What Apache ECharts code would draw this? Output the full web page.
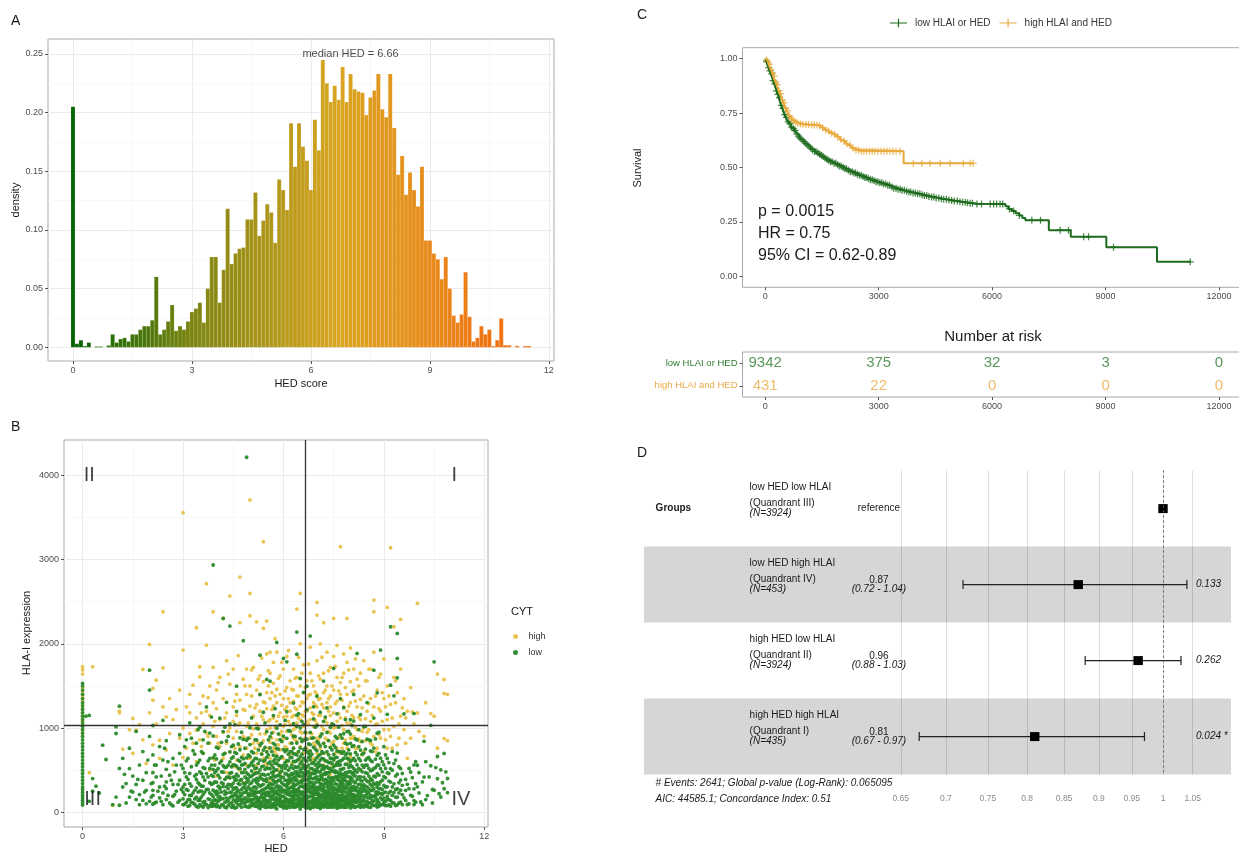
<!DOCTYPE html>
<html>
<head>
<meta charset="utf-8">
<script src="https://cdn.jsdelivr.net/npm/echarts@6/dist/echarts.min.js"></script>
<style>
html,body{margin:0;padding:0;background:#fff;}
#chart{width:1239px;height:856px;}
</style>
</head>
<body>
<div id="chart"></div>
<script>
const FONT = '"Liberation Sans", Arial, Helvetica, sans-serif';

// ---------- Panel A: HED score histogram (bins of 0.1, first bin centred on 0) ----------
const hedBinWidth = 0.1;
const hedDensity = [
  0.205,0.003,0.006,0.001,0.004,0,0.0006,0.0006,0,0.0015,
  0.011,0.004,0.007,0.008,0.005,0.011,0.011,0.015,0.018,0.018,
  0.023,0.060,0.011,0.015,0.022,0.036,0.014,0.018,0.015,0.022,
  0.030,0.033,0.038,0.021,0.050,0.077,0.077,0.038,0.066,0.118,
  0.071,0.080,0.084,0.085,0.109,0.109,0.132,0.095,0.108,0.122,
  0.115,0.089,0.143,0.134,0.117,0.191,0.154,0.191,0.171,0.159,
  0.134,0.194,0.168,0.245,0.225,0.209,0.223,0.211,0.239,0.209,
  0.233,0.220,0.218,0.217,0.198,0.213,0.219,0.233,0.203,0.196,
  0.233,0.187,0.147,0.163,0.130,0.149,0.134,0.120,0.154,0.091,
  0.091,0.080,0.075,0.058,0.077,0.050,0.027,0.021,0.028,0.064,
  0.026,0.005,0.008,0.018,0.011,0.015,0.001,0.006,0.0245,0.0017,
  0.0017,0,0.0012,0,0.001,0.001
];
const medianHED = 6.66;
const hedXTicks = [0, 3, 6, 9, 12];
const hedXMinor = [1.5, 4.5, 7.5, 10.5];
const densityTicks = [0, 0.05, 0.1, 0.15, 0.2, 0.25];
const densityMinor = [0.025, 0.075, 0.125, 0.175, 0.225];

// ---------- Panel B: HED vs HLA-I expression, coloured by CYT ----------
// each entry: [HED, [HLA-I expression values ...]]
const highCols = [
  [0,[935,980,1030,1080,1130,1180,1230,1280,1330,1380,1430,1480,1640,1690,1727]],
  [0.2,[470]],[0.3,[1727]],[0.9,[83]],
  [1.1,[1180,1200]],[1.2,[750]],[1.4,[980]],[1.5,[1113,700]],[1.6,[974]],[1.7,[1040]],[1.8,[1695,860]],[1.9,[580]],
  [2.0,[1992,1180]],[2.1,[1331,1469,800]],[2.2,[1568,1050]],[2.3,[855,640]],[2.4,[1715,2380,1250]],[2.5,[1133,740]],
  [2.6,[935,1350]],[2.7,[560,1100]],[2.8,[1220]],[2.9,[1450,880]],
  [3.0,[1925,3556,1000,650]],[3.1,[1251,760]],[3.2,[935,1400,1180]],[3.3,[1509,820]],[3.4,[2190,974,1120,600]],
  [3.5,[1608,1727,1290,860]],[3.6,[1050,700,1380]],[3.7,[2713,940,1200,1984]],[3.8,[1500,820,1150,500]],[3.9,[2380,1720,1020,640,1300]],
  [4.0,[1230,900,1450,430]],[4.1,[780,1600,1100]],[4.2,[2301,1350,950,640]],[4.3,[1180,1800,820,470]],[4.4,[2566,1520,1000,720,420]],
  [4.5,[1250,880,1700,560,1080]],[4.6,[1400,960,620,1150]],[4.7,[2792,2250,1060,780,1330,500]],[4.8,[1580,900,1220,680,350]],[4.9,[1700,1020,760,1400,560]],
  [5.0,[3707,2598,2333,1260,880,1500,640]],[5.1,[1140,1720,820,990]],[5.2,[2261,1450,1050,700,1280,560]],[5.3,[1620,930,1200,780,1400,430]],
  [5.4,[2182,3212,1100,850,1550,640,1310]],[5.5,[2269,1880,980,1230,720,1420,560]],[5.6,[1650,1100,830,1350,640,1900,1000,380]],
  [5.7,[1260,950,1530,760,1120,470,1780]],[5.8,[1900,1080,860,1300,680,1460,1020]],[5.9,[1400,920,1180,740,1620,540,460]],
  [6.0,[1130,1350,870,1700,640,1020]],[6.1,[1250,960,1480,760,1140,1850,600]],[6.2,[1560,1040,820,1300,680,1200,350]],
  [6.3,[1320,980,1700,760,1150,1450,600,880]],[6.4,[2412,1600,1060,840,1380,700,1220]],[6.5,[2598,1260,960,1500,780,1100,2000,620,420]],
  [6.6,[1420,1020,860,1300,1750,700,1140]],[6.7,[1200,940,1560,760,1350,1080,540]],[6.8,[1650,1100,880,1400,720,1960,1240,470]],
  [6.9,[1300,1020,820,1500,1160,640]],[7.0,[2491,2341,1400,1050,1800,880,1250,700]],[7.1,[1580,1150,920,1350,760,2000,390]],
  [7.2,[2250,1240,980,1650,820,1420,560]],[7.3,[1300,1060,1900,860,1500,700]],[7.4,[1720,1150,940,1380,780,1250,450]],
  [7.5,[2301,1450,1000,1850,840,1180,620]],[7.6,[1320,1080,1600,760,1980]],[7.7,[3152,1540,1120,900,1400,700,330]],
  [7.8,[1880,1250,980,1650,820]],[7.9,[2301,1400,1060,1200,760,1780]],[8.0,[1300,1050,1550,880,1950,660,410]],
  [8.1,[1450,1120,900,1700]],[8.2,[1250,980,1580,760]],[8.3,[1650,1100,1340,840,500]],[8.4,[1380,1000,1800,720]],
  [8.5,[1200,950,1560]],[8.6,[1700,1080,820,1350,380]],[8.7,[2519,2380,1250,900,1900]],[8.8,[1450,1050,760]],[8.9,[1200,1640,880]],
  [9.0,[1350,980,1820]],[9.1,[2432,1100,1500,760]],[9.2,[3140,1280,900]],[9.3,[2202,1600,1020]],[9.4,[1420,800]],
  [9.5,[2289,1140,1700]],[9.6,[980,1350]],[9.7,[1200,640]],[9.8,[1480,880]],[9.9,[1050]],
  [10.0,[2479,1180]],[10.2,[900]],[10.4,[1172]],[10.5,[1141]],[10.6,[1640,760]],[10.8,[1576,875,1410]],[10.9,[1400,850]],
  [3.55,[1180,780]],[3.75,[1360,900]],[3.95,[1080,620]],[4.05,[1540,820]],[4.25,[1120,700]],[4.35,[1640,960]],
  [4.55,[1320,760,540]],[4.65,[1860,1040]],[4.85,[1210,880,1500]],[4.95,[1060,640]],[5.05,[1380,920,1690]],
  [5.15,[1240,760,480]],[5.25,[1580,1010,820]],[5.35,[1140,700,1830]],[5.45,[1300,930,590]],[5.55,[1500,1080,760,1680]],
  [5.65,[1220,880,1420,560]],[5.75,[1380,1010,720,2060]],[5.85,[1140,800,1590,500]],[5.95,[1270,960,1780,650]],
  [6.05,[1440,1040,780,1220]],[6.15,[1080,1350,690,1920]],[6.25,[1460,920,1130,580]],[6.35,[1240,860,1590,1000]],
  [6.45,[1120,1380,720,1840]],[6.55,[1310,940,1650,560,1160]],[6.65,[1200,880,1480,1040]],[6.75,[1390,1050,720,1760]],
  [6.85,[1180,930,1560,620]],[6.95,[1430,1090,790,1270]],[7.05,[1150,860,1620,1340]],[7.15,[1280,1020,700,1840]],
  [7.25,[1450,1110,880,610]],[7.35,[1200,960,1680,1350]],[7.45,[1050,820,1500,560]],[7.55,[1290,1010,1730,700]],
  [7.65,[1170,890,1440]],[7.75,[1330,1030,760,1600]],[7.85,[1120,860,1480]],[7.95,[1260,960,1690,600]],
  [8.05,[1150,880,1430]],[8.15,[1320,1010,760,1820]],[8.25,[1130,870,1500]],[8.35,[1240,960,680]],
  [8.45,[1560,1110,850]],[8.55,[1290,980,1700]],[8.65,[1150,800]],[8.75,[1380,1040,720]],[8.85,[1230,920,1600]],
  [8.95,[1080,1420]],[9.05,[1250,860]],[9.15,[1380,980]],[9.25,[1120,760]],[9.35,[1300,1560]],[9.45,[1050,880]],
  [9.55,[1240]],[9.65,[1120,820]],[9.85,[1190]],[10.05,[960]],[10.25,[1300]]
];
const lowCols = [
  [0,[85,110,140,170,200,235,270,300,340,380,420,460,500,540,580,620,660,700,740,780,820,860,900,940,980,1020,1060,1100,1140,1180,1220,1260,1300,1350,1400,1450,1500,1530]],
  [0.1,[1140]],[0.2,[130,1150]],[0.3,[400,250]],[0.4,[310]],[0.5,[230]],[0.6,[796]],[0.7,[626]],[0.9,[90]],
  [1.0,[1014,935,180]],[1.1,[520,83,1259]],[1.2,[300,640]],[1.3,[340,110]],[1.4,[519,180,760]],
  [1.5,[240,430]],[1.6,[150,960,330]],[1.7,[90,560,210]],[1.8,[720,140,380]],[1.9,[260,100,470]],
  [2.0,[1687,1450,130,900]],[2.1,[470,260,680,95,350,1030,200]],[2.2,[560,120,420]],[2.3,[780,170,300]],[2.4,[1090,620,230,90]],
  [2.5,[510,360,150,850,280]],[2.6,[110,440]],[2.7,[640,190,330,75]],[2.8,[560,250]],[2.9,[920,140,380,700]],
  [3.0,[240,90,520,300,160]],[3.1,[860,420,120,610,270]],[3.2,[200,80,460,340,1060,150]],[3.3,[730,230,110]],
  [3.4,[560,390,70,290,180,820,450]],[3.5,[140,620,330,90,250,1010,480,160]],[3.6,[60,700,210,530,120,310,860,420]],
  [3.7,[1250,90,460,270]],[3.8,[150,350,640,80,520,230,940]],[3.9,[2935,185,425,95,648,262,134,905,342,508,72]],
  [4.0,[96,633,251,139,357,66,494,214,772]],[4.1,[148,407,296,58,585,186,1117,276]],[4.2,[2301,687,338,958,163,476,84,305,552]],
  [4.3,[127,846,302,53,537,226,414,1305,168]],[4.4,[2210,236,1048,407,174,716,327,103,463,598]],
  [4.5,[82,562,344,147,796,418,273,61,657,193]],[4.6,[548,241,385,1497,156,698,288,112,452,197,57,1196]],
  [4.7,[603,143,377,883,228,86,517,329,183,742]],[4.8,[2036,566,295,636,231,118,864,347,473,154]],
  [4.9,[4214,68,403,645,236,126,855,357,468,149,264]],[5.0,[227,83,558,338,153,803,421,276,63,662,1003,144]],
  [5.1,[553,243,382,152,704,294,92,447,213,611]],[5.2,[182,524,287,73,402,637,236,117,858,353,468,996,154]],
  [5.3,[44,416,1398,172,618,131,309,797,241,503,94,1865]],[5.4,[162,607,331,78,449,1187,224,738,128,384,548,268]],
  [5.5,[236,652,104,396,1577,138,716,292,57,526,203,364,957,118]],[5.6,[183,517,88,343,763,232,1556,408,134,598,281,62,897,191]],
  [5.7,[677,245,528,84,378,153,262,818,482,72,1148,334,205,607,99,438]],[5.8,[2016,92,218,41,758,502,141,997,359,583,313,171,432,663,247]],
  [5.9,[428,553,168,244,123,377,862,198,474,74,643,302,148,1037]],[6.0,[1826,93,418,744,258,133,557,328,52,187,903]],
  [6.1,[1786,157,612,333,79,451,1193,218,739,131,379,552,261,48,878,307]],[6.2,[243,648,102,401,142,719,289,58,528,201,362,962,121,442]],
  [6.3,[178,522,91,339,761,228,412,129,603,279,61,902,188,453,1296,108,318,697,68,249,1052]],
  [6.4,[2139,1877,681,238,531,82,383,152,259,822,478,71,1152,331,199,612,101,441,1021]],
  [6.5,[1588,362,89,221,39,763,499,139,1002,577,308,168,429,658,238,117,878,59]],
  [6.6,[432,548,171,243,563,122,381,858,202,468,73,641,298,151,1042,419,88,742,1422]],
  [6.7,[198,608,328,81,462,1218,242,723,133,388,538,272,51,868,302,158,481,1497]],
  [6.8,[232,663,112,413,129,728,283,62,518,188,352,948,124,448,803,2091,622,42,308]],
  [6.9,[169,503,79,332,772,219,1108,398,142,588,268,58,883,204,459,1252,99,312]],
  [7.0,[252,567,128,392,838,212,492,72,648,298,163,1028,421,92,731,268,519,141,1377,61]],
  [7.1,[158,433,76,558,271,1187,342,119,688,209,479,46,898,311,182,619,102,391,789]],
  [7.2,[291,98,512,209,818,377,143,632,62,452,261,1078,172,548,329,88,702,238,1557]],
  [7.3,[132,468,302,59,608,199,948,382,112,541,252,82,718,348,168,462,1238,223]],
  [7.4,[219,592,108,352,768,162,482,63,1008,279,129,642,398,202,89,522,301]],
  [7.5,[1707,178,483,93,622,298,138,372,798,232,61,538,408,158,1038,272,109,688]],
  [7.6,[268,142,558,72,422,877,211,328,102,652,478,179,1168,252,49,392,728,151,588]],
  [7.7,[152,378,92,718,252,508,169,1348,58,442,312,198,609,122,918,282,468,79,348,562]],
  [7.8,[198,638,121,402,258,82,932,331,521,172,59,718,292,449,139,1242,379]],
  [7.9,[112,472,228,698,162,352,62,569,282,958,191,428,91,641,318,152,808]],
  [8.0,[241,602,98,378,181,818,292,51,482,148,1098,341,219,692,81,418,262,558,131,928]],
  [8.1,[168,441,82,638,269,1398,362,128,518,212,62,792,308,161,472,1082]],
  [8.2,[1885,298,119,562,202,858,388,71,478,251,681,149]],
  [8.3,[229,88,502,332,152,738,421,58,1158,279,612,191,382,118]],
  [8.4,[141,418,252,702,79,532,329,169,1018,281,61]],
  [8.5,[302,132,558,221,868,91,462,179,638,368,1302,241,69]],
  [8.6,[201,618,112,398,258,852,168,492,59,332,728]],
  [8.7,[1687,278,81,522,188,762,342,131,428,1118]],
  [8.8,[1418,151,458,242,62,678,352,129,558,209,938,298,98]],
  [8.9,[1925,222,518,89,362,171,642,281]],[9.0,[318,121,562,231,778,168,422,92]],
  [9.1,[188,468,79,638,302,1162,152]],[9.2,[2202,358,139,518,1509,248,72]],[9.3,[232,578,112,1382,338]],
  [9.4,[2123,1826,1596,178,452,88,702,279]],[9.5,[262,518,121,382]],[9.6,[171,1168]],[9.7,[332,92]],[9.8,[478,201]],
  [9.9,[1172,139,562,278,91]],[10.0,[302,558]],[10.1,[122]],[10.2,[842,418]],[10.3,[198]],[10.4,[1032,552]],
  [10.5,[1786,262]],[10.6,[398,662]],[10.7,[181,502]],[10.8,[279,698]],[10.9,[232,401]],
  [1.25,[450]],[1.45,[250]],[1.65,[390]],[1.85,[240]],[1.95,[620]],
  [2.05,[340,180]],[2.15,[560,110]],[2.25,[250]],[2.35,[430,130]],[2.45,[310,760]],[2.55,[200,600]],[2.65,[380,90]],
  [2.75,[480,210]],[2.85,[120,330]],[2.95,[270,560]],
  [3.05,[210,470,95,330,780]],[3.15,[150,390,640,260,70]],[3.25,[310,120,540,880,200]],[3.35,[95,430,260,690,160]],
  [3.45,[350,140,590,240,980,60]],[3.55,[180,460,75,310,720,250]],[3.65,[520,130,380,240,90,960]],
  [3.75,[270,610,160,420,55,820]],[3.85,[110,330,560,210,440,70,1130]],[3.95,[240,470,150,680,90,360,560]],
  [4.05,[180,520,310,70,760,230,440,130]],[4.15,[350,90,610,240,480,160,830]],[4.25,[120,390,250,700,60,530,210,1010]],
  [4.35,[280,560,140,420,80,900,330]],[4.45,[190,640,310,60,470,240,110,780,540]],[4.55,[420,130,290,710,220,560,50,380,1040]],
  [4.65,[260,90,520,180,810,340,620,140,430]],[4.75,[150,470,270,60,650,390,200,950,110,560]],
  [4.85,[330,100,580,240,420,170,760,70,510,290]],[4.95,[210,680,130,380,60,540,300,880,190,450]],
  [5.05,[120,430,260,720,80,590,200,350,1120,150,490]],[5.15,[300,70,520,180,640,380,110,860,250,460,220]],
  [5.25,[160,580,330,90,740,240,470,130,990,380,60]],[5.35,[260,110,690,400,180,540,70,320,820,210,450]],
  [5.45,[90,380,230,620,150,510,280,1060,60,440,190,770]],[5.55,[320,140,580,70,450,210,860,300,120,680,240,520]],
  [5.65,[190,470,100,330,720,250,560,60,410,940,160,290]],[5.75,[420,80,290,630,170,500,360,120,800,230,55,580,1230]],
  [5.85,[150,560,310,90,440,210,750,120,380,620,270,930]],[5.95,[280,70,490,190,660,350,120,840,240,530,100,410]],
  [6.05,[110,380,230,590,60,460,170,720,320,140,520,1090,260]],[6.15,[340,120,500,210,690,80,430,280,970,150,610,230,380]],
  [6.25,[190,650,300,70,460,160,820,380,110,560,240,720,130,450]],[6.35,[270,100,540,210,380,60,690,320,150,480,900,220,600,410]],
  [6.45,[130,460,280,80,720,190,540,350,110,630,260,1170,430,170]],[6.55,[350,160,600,240,70,470,310,840,140,520,210,690,380,90,1080]],
  [6.65,[210,530,120,390,280,760,60,440,170,620,330,100,510,950]],[6.75,[90,420,250,650,180,340,560,120,810,270,480,60,700,380]],
  [6.85,[300,140,580,230,70,460,350,690,190,520,110,880,400,250]],[6.95,[160,490,290,80,620,220,410,750,130,350,560,1010,240,460]],
  [7.05,[230,110,540,380,170,670,290,60,480,200,820,360,130,590]],[7.15,[120,440,260,720,90,510,330,190,640,410,70,930,280,550]],
  [7.25,[340,180,610,80,450,250,780,140,390,530,220,1130,100,470]],[7.35,[200,520,110,360,680,270,60,470,160,590,320,850,420,240]],
  [7.45,[90,410,250,580,150,740,330,60,500,210,640,380,1050,170]],[7.55,[280,130,490,220,650,80,420,340,770,190,560,110,900,470]],
  [7.65,[170,560,300,90,460,200,720,380,130,600,250,1010,420,60]],[7.75,[250,80,410,620,160,510,310,880,220,700,140,450,350]],
  [7.85,[110,470,240,680,60,380,180,570,290,820,430,150,1100]],[7.95,[330,140,530,250,740,90,420,200,630,360,120,960,480]],
  [8.05,[180,460,90,620,300,210,780,400,130,540,260,1030,70]],[8.15,[260,120,500,350,710,60,430,190,610,280,870,160]],
  [8.25,[140,420,250,640,80,520,330,180,780,230,980]],[8.35,[310,90,480,200,690,370,130,560,250,840,70]],
  [8.45,[200,560,120,390,750,260,470,80,620,310,1020]],[8.55,[110,430,280,650,170,520,60,360,230,860]],
  [8.65,[260,90,500,190,720,380,140,600,310]],[8.75,[170,420,240,630,80,530,330,870,200]],
  [8.85,[330,120,560,230,440,70,700,280,950]],[8.95,[90,380,210,600,150,480,270]],
  [9.05,[240,520,130,410,80,680,300]],[9.15,[150,370,590,230,90,460]],[9.25,[300,110,500,200,720]],
  [9.35,[180,430,80,620,270]],[9.45,[110,350,540,230]],[9.55,[210,460,90,320]],[9.65,[140,390,260]],
  [9.75,[280,100,520]],[9.85,[190,410]],[9.95,[120,340,600]],[10.05,[230,470]],[10.15,[360,90]],[10.25,[150,600]],
  [10.35,[420]],[10.45,[270,110]],[10.55,[530]],[10.65,[220]],[10.75,[350]],[10.85,[480]]
];
const hlaThreshold = 1034;
const quadrantNames = ['II', 'I', 'III', 'IV'];
const bXTicks = [0, 3, 6, 9, 12];
const bXMinor = [1.5, 4.5, 7.5, 10.5];
const bYTicks = [0, 1000, 2000, 3000, 4000];
const bYMinor = [500, 1500, 2500, 3500];

// ---------- Panel C: Kaplan-Meier curves ----------
const kmLowT = [0,30,60,90,120,150,180,210,240,270,300,330,360,390,420,450,480,510,540,570,600,630,660,690,720,760,800,840,880,920,960,1000,1050,1100,1150,1200,1250,1300,1350,1400,1450,1500,1550,1600,1650,1725,1800,1875,1950,2025,2100,2175,2250,2325,2400,2475,2550,2625,2700,2775,2850,2925,3000,3100,3200,3300,3400,3500,3600,3700,3800,3900,4000,4100,4200,4300,4400,4500,4600,4700,4800,4900,5000,5100,5200,5300,5400,5500,5600,6350,6430,6520,6620,6720,6800,6880,7500,8080,9020,10360];
const kmLowS = [1,0.986,0.972,0.958,0.944,0.93,0.915,0.899,0.884,0.868,0.852,0.836,0.82,0.802,0.785,0.771,0.757,0.743,0.73,0.72,0.71,0.701,0.693,0.685,0.678,0.67,0.662,0.653,0.644,0.635,0.627,0.62,0.612,0.604,0.597,0.589,0.582,0.574,0.567,0.561,0.556,0.55,0.544,0.538,0.533,0.526,0.519,0.513,0.507,0.5,0.494,0.487,0.481,0.475,0.469,0.464,0.459,0.454,0.449,0.444,0.44,0.435,0.43,0.424,0.418,0.411,0.405,0.4,0.395,0.391,0.387,0.383,0.379,0.375,0.371,0.367,0.364,0.36,0.357,0.354,0.351,0.348,0.346,0.343,0.341,0.338,0.336,0.334,0.332,0.322,0.31,0.3,0.29,0.28,0.268,0.258,0.212,0.182,0.134,0.067];
const kmLowEnd = 11250;
const kmHighT = [0,30,60,90,120,150,180,210,240,270,300,330,360,390,420,450,480,510,540,570,600,630,660,690,720,760,800,850,900,1000,1200,1400,1450,1500,1550,1600,1650,1700,1750,1800,1850,1900,1950,2000,2050,2100,2150,2200,2250,2300,2350,2400,2500,3660];
const kmHighS = [1,0.993,0.985,0.974,0.962,0.949,0.935,0.92,0.905,0.893,0.88,0.866,0.853,0.839,0.825,0.811,0.797,0.784,0.772,0.76,0.748,0.738,0.73,0.723,0.718,0.713,0.708,0.704,0.7,0.697,0.695,0.692,0.688,0.683,0.678,0.672,0.667,0.662,0.657,0.652,0.647,0.641,0.635,0.628,0.622,0.615,0.609,0.602,0.596,0.59,0.585,0.58,0.575,0.519];
const kmHighEnd = 5500;
const lowCensor = [40,95,130,170,210,255,300,335,380,430,470,520,560,610,655,700,745,790,840,880,925,970,1020,1065,1110,1160,1205,1250,1300,1345,1390,1440,1490,1535,1580,1630,1680,1725,1770,1820,1870,1915,1960,2010,2060,2105,2150,2200,2250,2300,2345,2390,2440,2490,2540,2590,2635,2680,2730,2780,2830,2880,2930,2980,3030,3080,3130,3190,3240,3290,3350,3400,3460,3510,3570,3620,3680,3740,3800,3850,3910,3970,4030,4090,4150,4210,4270,4330,4400,4460,4520,4590,4660,4720,4790,4860,4930,5000,5080,5150,5220,5290,5350,5420,5480,5600,5720,5950,6040,6120,6210,6280,6460,6570,6720,7050,7280,7800,8020,8420,8550,9210,11240];
const highCensor = [30,70,110,150,190,235,280,320,365,410,450,500,545,590,640,690,740,800,860,930,1000,1080,1150,1230,1300,1370,1440,1520,1600,1680,1760,1840,1920,2000,2080,2160,2240,2320,2400,2470,2540,2610,2680,2760,2830,2900,2980,3060,3140,3220,3300,3380,3460,3560,3920,4140,4360,4630,4890,5240,5420,5500];
const kmLabels = ['low HLAI or HED', 'high HLAI and HED'];
const kmStats = ['p = 0.0015', 'HR = 0.75', '95% CI = 0.62-0.89'];
const survTicks = [0, 0.25, 0.5, 0.75, 1];
const timeTicks = [0, 3000, 6000, 9000, 12000];
const riskTimes = [0, 3000, 6000, 9000, 12000];
const riskLow = [9342, 375, 32, 3, 0];
const riskHigh = [431, 22, 0, 0, 0];

// ---------- Panel D: Cox model forest plot ----------
const forestGroup = ['low HED low HLAI', 'low HED high HLAI', 'high HED low HLAI', 'high HED high HLAI'];
const forestQuad = ['(Quandrant III)', '(Quandrant IV)', '(Quandrant II)', '(Quandrant I)'];
const forestN = [3924, 453, 3924, 435];
const forestHR = [1, 0.87, 0.96, 0.81];
const forestLo = [null, 0.72, 0.88, 0.67];
const forestHi = [null, 1.04, 1.03, 0.97];
const forestP = ['', '0.133', '0.262', '0.024 *'];
const forestTicks = [0.65, 0.7, 0.75, 0.8, 0.85, 0.9, 0.95, 1, 1.05];
const forestNotes = ['# Events: 2641; Global p-value (Log-Rank): 0.065095', 'AIC: 44585.1; Concordance Index: 0.51'];

// ---------- colours & layout ----------
const C = {
  low: '#2b8a2b', high: '#e8c24a',
  kmLow: '#1d6b1d', kmHigh: '#e9a93a',
  riskLow: '#2f7a2f', riskHigh: '#eaaa45',
  border: '#a9a9a9', grid: '#ebebeb', gridMinor: '#f4f4f4', tickText: '#4d4d4d'
};
const hedColorStops = [[0,[0,100,0]],[3,[124,132,16]],[6.66,[217,165,32]],[9,[232,138,26]],[11.6,[244,100,12]]];
function hedColor(v) {
  const s = hedColorStops;
  if (v <= s[0][0]) return 'rgb(' + s[0][1].join(',') + ')';
  for (let i = 1; i < s.length; i++) {
    if (v <= s[i][0]) {
      const f = (v - s[i-1][0]) / (s[i][0] - s[i-1][0]);
      const c = s[i-1][1].map((a, k) => Math.round(a + (s[i][1][k] - a) * f));
      return 'rgb(' + c.join(',') + ')';
    }
  }
  return 'rgb(' + s[s.length-1][1].join(',') + ')';
}
const toPoints = cols => cols.flatMap(([x, ys]) => ys.map(y => [x, y]));
function stepAt(ts, ss, t) {
  let v = ss[0];
  for (let i = 0; i < ts.length; i++) { if (ts[i] <= t) v = ss[i]; else break; }
  return v;
}
const crossPath = 'path://M-0.18,-1L0.18,-1L0.18,-0.18L1,-0.18L1,0.18L0.18,0.18L0.18,1L-0.18,1L-0.18,0.18L-1,0.18L-1,-0.18L-0.18,-0.18Z';
const legendLinePath = 'path://M0,4.3L20,4.3L20,5.7L0,5.7Z M9.3,0L10.7,0L10.7,10L9.3,10Z';

const gridA = {left: 48, top: 39, width: 506, height: 322};
const gridB = {left: 64, top: 440, width: 424, height: 387};
const gridC = {left: 742.5, top: 47.7, width: 499.2, height: 239.6};
const gridR = {left: 742.5, top: 352, width: 499.2, height: 45};
const gridD = {left: 644, top: 470.6, width: 587, height: 304};
const forestCols = {groups: 655.6, name: 749.6, hr: 878.9, p: 1196};
const medianLabelAt = [7.0, 0.25];
const quadrantAt = [[0.2, 4000], [11.1, 4000], [0.3, 150], [11.3, 150]];

function mainAxis(grid, min, max, ticks, fmt, pos) {
  return {
    gridIndex: grid, type: 'value', min, max, position: pos,
    axisLine: {show: false, onZero: false},
    axisTick: {show: true, customValues: ticks, length: 3, lineStyle: {color: '#555', width: 1}},
    axisLabel: {customValues: ticks, formatter: fmt, color: C.tickText, fontSize: 9, fontFamily: FONT, margin: 5},
    splitLine: {show: true, lineStyle: {color: C.grid, width: 1}}
  };
}
function minorAxis(grid, min, max, ticks, pos) {
  return {
    gridIndex: grid, type: 'value', min, max, position: pos,
    axisLine: {show: false, onZero: false}, axisLabel: {show: false},
    axisTick: {show: false, customValues: ticks},
    splitLine: {show: true, lineStyle: {color: C.gridMinor, width: 0.7}}
  };
}
function plainAxis(grid, min, max, ticks, fmt, pos) {
  const a = mainAxis(grid, min, max, ticks, fmt, pos);
  a.splitLine = {show: false};
  return a;
}
function txt(text, x, y, o) {
  o = o || {};
  return {
    type: 'text', x, y, rotation: o.rot || 0, silent: true,
    style: {
      text, fill: o.color || '#1a1a1a', fontSize: o.size || 11, fontFamily: FONT,
      fontStyle: o.italic ? 'italic' : 'normal', fontWeight: o.bold ? 'bold' : 'normal',
      align: o.align || 'left', textAlign: o.align || 'left',
      verticalAlign: 'middle', textVerticalAlign: 'middle'
    }
  };
}

const fmtInt = v => String(v);
const fmt2 = v => v.toFixed(2);

const chart = echarts.init(document.getElementById('chart'), null, {renderer: 'canvas'});

const gridBase = {show: true, borderColor: C.border, borderWidth: 1, backgroundColor: '#fff', containLabel: false, outerBoundsMode: 'none'};

const option = {
  animation: false,
  backgroundColor: '#fff',
  textStyle: {fontFamily: FONT},
  grid: [
    Object.assign({}, gridBase, gridA),
    Object.assign({}, gridBase, gridB),
    Object.assign({}, gridBase, gridC),
    Object.assign({}, gridBase, gridR),
    Object.assign({}, gridD, {show: false, containLabel: false, outerBoundsMode: 'none'})
  ],
  xAxis: [
    mainAxis(0, -0.63, 12.13, hedXTicks, fmtInt, 'bottom'),
    minorAxis(0, -0.63, 12.13, hedXMinor, 'top'),
    mainAxis(1, -0.555, 12.11, bXTicks, fmtInt, 'bottom'),
    minorAxis(1, -0.555, 12.11, bXMinor, 'top'),
    plainAxis(2, -600, 12600, timeTicks, fmtInt, 'bottom'),
    plainAxis(3, -600, 12600, timeTicks, fmtInt, 'bottom'),
    {
      gridIndex: 4, type: 'value', min: -0.8526, max: 0.1117,
      axisLine: {show: false, onZero: false},
      axisTick: {show: false, customValues: forestTicks.map(Math.log)},
      axisLabel: {customValues: forestTicks.map(Math.log), formatter: v => String(+Math.exp(v).toFixed(2)),
        color: '#8a8a8a', fontSize: 8.5, fontFamily: FONT, margin: 20},
      splitLine: {show: true, lineStyle: {color: '#dedede', width: 1}}
    }
  ],
  yAxis: [
    mainAxis(0, -0.0117, 0.2628, densityTicks, fmt2, 'left'),
    minorAxis(0, -0.0117, 0.2628, densityMinor, 'right'),
    mainAxis(1, -175, 4419, bYTicks, fmtInt, 'left'),
    minorAxis(1, -175, 4419, bYMinor, 'right'),
    plainAxis(2, -0.05, 1.05, survTicks, fmt2, 'left'),
    {
      gridIndex: 3, type: 'category', data: kmLabels, inverse: true,
      axisLine: {show: false, onZero: false},
      axisTick: {show: true, alignWithLabel: true, length: 3, lineStyle: {color: '#555'}},
      axisLabel: {fontSize: 9.5, fontFamily: FONT, margin: 5,
        color: (v, i) => (i === 0 ? C.riskLow : C.riskHigh)},
      splitLine: {show: false}
    },
    {gridIndex: 4, type: 'value', min: 0, max: 4, inverse: true, show: false}
  ],
  legend: [
    {
      data: ['high', 'low'], orient: 'vertical', left: 508, top: 627, itemGap: 7,
      itemWidth: 16, itemHeight: 5, icon: 'circle',
      textStyle: {fontSize: 9, color: '#333', fontFamily: FONT}, selectedMode: false
    },
    {
      data: kmLabels.map(n => ({name: n, icon: legendLinePath})), orient: 'horizontal', left: 885, top: 13,
      itemGap: 9, itemWidth: 17, itemHeight: 10,
      textStyle: {fontSize: 10, color: '#333', fontFamily: FONT, padding: [0, 0, 0, 3]}, selectedMode: false
    }
  ],
  series: [
    // A: histogram bars
    {
      type: 'custom', xAxisIndex: 0, yAxisIndex: 0, silent: true,
      data: hedDensity.map((d, i) => [i * hedBinWidth, d]),
      renderItem: (params, api) => {
        const c = api.value(0), d = api.value(1);
        if (!(d > 0)) return null;
        const p0 = api.coord([c - hedBinWidth / 2, d]);
        const p1 = api.coord([c + hedBinWidth / 2, 0]);
        return {type: 'rect', shape: {x: p0[0], y: p0[1], width: p1[0] - p0[0], height: Math.max(0.8, p1[1] - p0[1])},
          style: {fill: hedColor(c), stroke: 'rgba(255,255,255,0.35)', lineWidth: 0.4}};
      }
    },
    {
      type: 'scatter', xAxisIndex: 0, yAxisIndex: 0, silent: true, symbolSize: 1,
      itemStyle: {color: 'rgba(0,0,0,0)'},
      data: [medianLabelAt],
      label: {show: true, position: 'inside', formatter: () => 'median HED = ' + medianHED,
        fontSize: 11, color: '#1a1a1a', fontFamily: FONT}
    },
    // B: scatter
    {
      name: 'high', type: 'scatter', xAxisIndex: 2, yAxisIndex: 2, silent: true,
      symbol: 'circle', symbolSize: 3.8, itemStyle: {color: C.high, opacity: 0.95},
      data: toPoints(highCols)
    },
    {
      name: 'low', type: 'scatter', xAxisIndex: 2, yAxisIndex: 2, silent: true,
      symbol: 'circle', symbolSize: 3.8, itemStyle: {color: C.low, opacity: 0.95},
      data: toPoints(lowCols),
      markLine: {
        silent: true, symbol: ['none', 'none'], label: {show: false},
        lineStyle: {color: '#333', width: 1.3, type: 'solid'},
        data: [{xAxis: medianHED}, {yAxis: hlaThreshold}]
      }
    },
    {
      type: 'scatter', xAxisIndex: 2, yAxisIndex: 2, silent: true, symbolSize: 1,
      itemStyle: {color: 'rgba(0,0,0,0)'},
      data: quadrantAt.map((p, i) => ({value: p, name: quadrantNames[i]})),
      label: {show: true, position: 'inside', formatter: p => p.name, fontSize: 20, color: '#111', fontFamily: FONT}
    },
    // C: survival curves
    {
      name: kmLabels[0], type: 'line', xAxisIndex: 4, yAxisIndex: 4, step: 'end', showSymbol: false, silent: true,
      lineStyle: {color: C.kmLow, width: 2}, itemStyle: {color: C.kmLow},
      data: kmLowT.map((t, i) => [t, kmLowS[i]]).concat([[kmLowEnd, kmLowS[kmLowS.length - 1]]])
    },
    {
      name: kmLabels[1], type: 'line', xAxisIndex: 4, yAxisIndex: 4, step: 'end', showSymbol: false, silent: true,
      lineStyle: {color: C.kmHigh, width: 2}, itemStyle: {color: C.kmHigh},
      data: kmHighT.map((t, i) => [t, kmHighS[i]]).concat([[kmHighEnd, kmHighS[kmHighS.length - 1]]])
    },
    {
      name: kmLabels[0], type: 'scatter', xAxisIndex: 4, yAxisIndex: 4, silent: true,
      symbol: crossPath, symbolSize: 7, itemStyle: {color: C.kmLow},
      data: lowCensor.map(t => [t, stepAt(kmLowT, kmLowS, t)])
    },
    {
      name: kmLabels[1], type: 'scatter', xAxisIndex: 4, yAxisIndex: 4, silent: true,
      symbol: crossPath, symbolSize: 7, itemStyle: {color: C.kmHigh},
      data: highCensor.map(t => [t, stepAt(kmHighT, kmHighS, t)])
    },
    // C: number at risk
    {
      type: 'scatter', xAxisIndex: 5, yAxisIndex: 5, silent: true, symbolSize: 1, itemStyle: {color: 'rgba(0,0,0,0)'},
      data: riskTimes.map((t, i) => [t, kmLabels[0], riskLow[i]]),
      label: {show: true, position: 'inside', formatter: p => String(p.value[2]), fontSize: 15, color: C.riskLow, fontFamily: FONT}
    },
    {
      type: 'scatter', xAxisIndex: 5, yAxisIndex: 5, silent: true, symbolSize: 1, itemStyle: {color: 'rgba(0,0,0,0)'},
      data: riskTimes.map((t, i) => [t, kmLabels[1], riskHigh[i]]),
      label: {show: true, position: 'inside', formatter: p => String(p.value[2]), fontSize: 15, color: C.riskHigh, fontFamily: FONT}
    },
    // D: row shading and reference line
    {
      type: 'line', xAxisIndex: 6, yAxisIndex: 6, data: [], z: 1, silent: true,
      markArea: {silent: true, itemStyle: {color: 'rgba(0,0,0,0.16)'},
        data: [[{yAxis: 1}, {yAxis: 2}], [{yAxis: 3}, {yAxis: 4}]]},
      markLine: {silent: true, symbol: ['none', 'none'], label: {show: false},
        lineStyle: {color: '#666', width: 1.1, type: [2, 3]}, data: [{xAxis: 0}]}
    },
    // D: estimates, intervals and row text
    {
      type: 'custom', xAxisIndex: 6, yAxisIndex: 6, z: 3, silent: true,
      data: forestHR.map((v, i) => [Math.log(v), i + 0.5]),
      renderItem: (params, api) => {
        const i = params.dataIndex;
        const c = api.coord([api.value(0), api.value(1)]);
        const y = c[1];
        const kids = [];
        const ink = '#1a1a1a';
        if (forestLo[i] != null) {
          const a = api.coord([Math.log(forestLo[i]), api.value(1)]);
          const b = api.coord([Math.log(forestHi[i]), api.value(1)]);
          const ls = {stroke: '#222', lineWidth: 1.2};
          kids.push({type: 'line', shape: {x1: a[0], y1: y, x2: b[0], y2: y}, style: ls});
          kids.push({type: 'line', shape: {x1: a[0], y1: y - 4.5, x2: a[0], y2: y + 4.5}, style: ls});
          kids.push({type: 'line', shape: {x1: b[0], y1: y - 4.5, x2: b[0], y2: y + 4.5}, style: ls});
        }
        kids.push({type: 'rect', shape: {x: c[0] - 4.7, y: y - 4.5, width: 9.4, height: 9}, style: {fill: '#000'}});
        const t = (text, x, dy, o) => {
          o = o || {};
          return {type: 'text', style: {text, x, y: y + dy, fill: ink, fontSize: 10, fontFamily: FONT,
            fontStyle: o.italic ? 'italic' : 'normal', fontWeight: o.bold ? 'bold' : 'normal',
            align: o.align || 'left', verticalAlign: 'middle', textAlign: o.align || 'left', textVerticalAlign: 'middle'}};
        };
        if (i === 0) kids.push(t('Groups', forestCols.groups, 0, {bold: true}));
        kids.push(t(forestGroup[i], forestCols.name, -21));
        kids.push(t(forestQuad[i], forestCols.name, -5.5));
        kids.push(t('(N=' + forestN[i] + ')', forestCols.name, 4.5, {italic: true}));
        if (forestLo[i] == null) {
          kids.push(t('reference', forestCols.hr, 0, {align: 'center'}));
        } else {
          kids.push(t(forestHR[i].toFixed(2), forestCols.hr, -4.6, {align: 'center'}));
          kids.push(t('(' + forestLo[i].toFixed(2) + ' - ' + forestHi[i].toFixed(2) + ')', forestCols.hr, 5, {align: 'center', italic: true}));
          kids.push(t(forestP[i], forestCols.p, 0, {italic: true}));
        }
        return {type: 'group', children: kids};
      }
    }
  ],
  graphic: [
    txt('A', 11, 21, {size: 14}),
    txt('B', 11, 427, {size: 14}),
    txt('C', 637, 15, {size: 14}),
    txt('D', 637, 453, {size: 14}),
    txt('HED score', 301, 384, {align: 'center'}),
    txt('density', 16, 200, {align: 'center', rot: Math.PI / 2}),
    txt('HED', 276, 849, {align: 'center'}),
    txt('HLA-I expression', 27, 633, {align: 'center', rot: Math.PI / 2}),
    txt('CYT', 511, 612, {size: 11}),
    txt('Survival', 638, 168, {align: 'center', rot: Math.PI / 2}),
    txt(kmStats[0], 758, 212, {size: 16}),
    txt(kmStats[1], 758, 234, {size: 16}),
    txt(kmStats[2], 758, 256, {size: 16}),
    txt('Number at risk', 993, 337, {align: 'center', size: 15}),
    txt(forestNotes[0], 655.6, 783, {size: 10, italic: true}),
    txt(forestNotes[1], 655.6, 799, {size: 10, italic: true})
  ]
};
chart.setOption(option);
</script>
</body>
</html>
